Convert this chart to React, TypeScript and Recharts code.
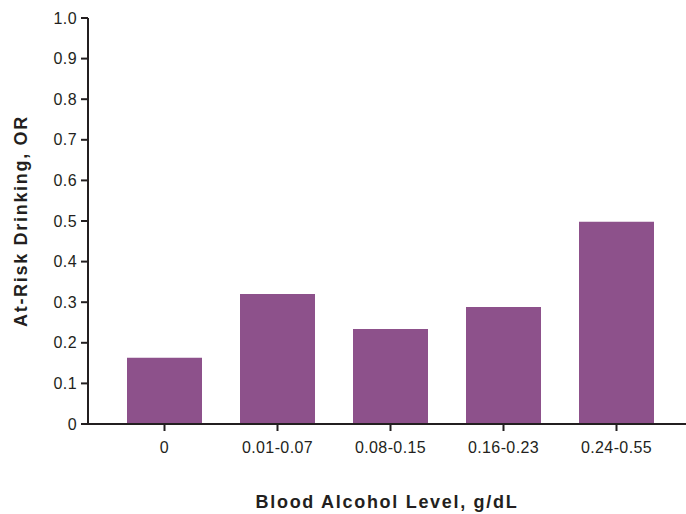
import { BarChart, Bar, XAxis, YAxis, Label } from 'recharts';

const categories = ['0', '0.01-0.07', '0.08-0.15', '0.16-0.23', '0.24-0.55'];
const oddsRatios = [0.163, 0.32, 0.234, 0.288, 0.498];
const yTicks = [0, 0.1, 0.2, 0.3, 0.4, 0.5, 0.6, 0.7, 0.8, 0.9, 1.0];

const data = categories.map((level, i) => ({ level, or: oddsRatios[i] }));

const ink = '#231f20';
const tickStyle = { fill: ink, fontSize: 16, fontFamily: 'Liberation Sans, Arial, sans-serif', letterSpacing: 0.4 };
const labelStyle = { fill: ink, fontSize: 18, fontWeight: 'bold', fontFamily: 'Liberation Sans, Arial, sans-serif', textAnchor: 'middle' as const, letterSpacing: 1.7 };

const fmt = (v: number) => (v === 0 ? '0' : v.toFixed(1));

export default function App() {
    return (
        <div style={{ position: 'absolute', left: 0, top: 0 }}>
            <BarChart width={686} height={514} data={data} margin={{ top: 18, right: 0, left: 0, bottom: 0 }}>
                <XAxis
                    dataKey="level"
                    height={90}
                    padding={{ left: 20, right: 13 }}
                    tick={tickStyle}
                    tickSize={7}
                    tickMargin={11}
                    axisLine={{ stroke: ink, strokeWidth: 2 }}
                    tickLine={{ stroke: ink, strokeWidth: 2 }}
                >
                    <Label value="Blood Alcohol Level, g/dL" position="insideBottom" offset={6} style={labelStyle} />
                </XAxis>
                <YAxis
                    width={88}
                    domain={[0, 1]}
                    ticks={yTicks}
                    tickFormatter={fmt}
                    interval={0}
                    tick={tickStyle}
                    tickSize={7}
                    tickMargin={4}
                    axisLine={{ stroke: ink, strokeWidth: 2 }}
                    tickLine={{ stroke: ink, strokeWidth: 2 }}
                >
                    <Label value="At-Risk Drinking, OR" angle={-90} position="insideLeft" offset={21} style={labelStyle} />
                </YAxis>
                <Bar dataKey="or" fill="#8d518b" barSize={75} isAnimationActive={false} />
            </BarChart>
        </div>
    );
}
